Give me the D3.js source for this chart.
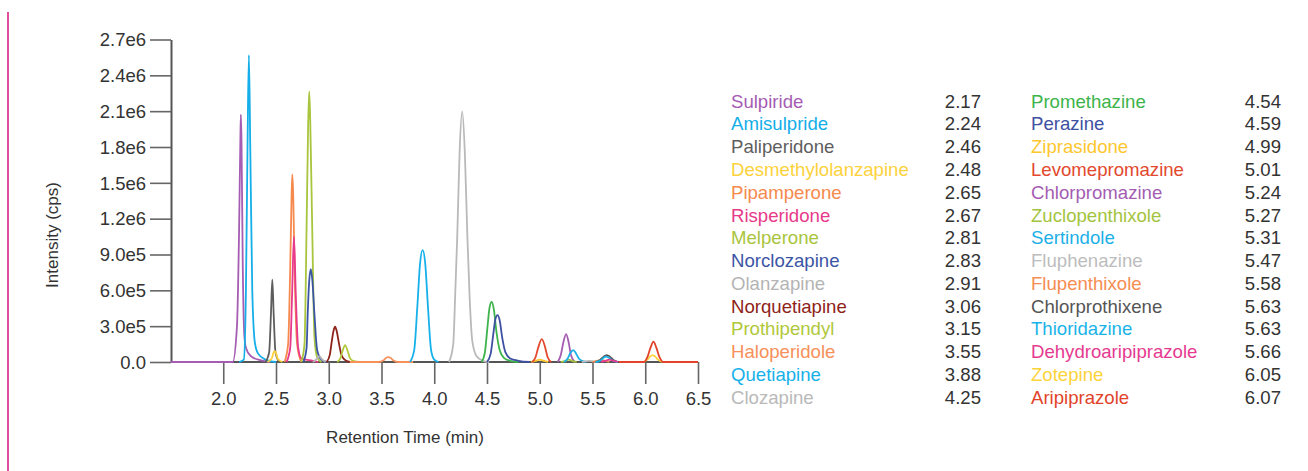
<!DOCTYPE html>
<html>
<head>
<meta charset="utf-8">
<script src="https://cdn.jsdelivr.net/npm/d3@7"></script>
<style>
  html, body { margin: 0; padding: 0; background: #fff; }
  svg { display: block; font-family: "Liberation Sans", Arial, Helvetica, sans-serif; }
</style>
</head>
<body>
<svg id="chart" width="1308" height="471"></svg>
<script>
// ---------- DATA ----------
const compounds = [
  "Sulpiride","Amisulpride","Paliperidone","Desmethylolanzapine","Pipamperone","Risperidone","Melperone",
  "Norclozapine","Olanzapine","Norquetiapine","Prothipendyl","Haloperidole","Quetiapine","Clozapine",
  "Promethazine","Perazine","Ziprasidone","Levomepromazine","Chlorpromazine","Zuclopenthixole","Sertindole",
  "Fluphenazine","Flupenthixole","Chlorprothixene","Thioridazine","Dehydroaripiprazole","Zotepine","Aripiprazole"
];
const retentionTimes = [
  "2.17","2.24","2.46","2.48","2.65","2.67","2.81","2.83","2.91","3.06","3.15","3.55","3.88","4.25",
  "4.54","4.59","4.99","5.01","5.24","5.27","5.31","5.47","5.58","5.63","5.63","5.66","6.05","6.07"
];
const colors = [
  "#a55cb3","#14aee8","#5e5e5e","#fdd23c","#f6894e","#e8398a","#a9c53d",
  "#3b55a5","#b4b4b4","#8e2318","#b0c83a","#f7905a","#17b1ea","#b9b9b9",
  "#3cb44b","#3e50a2","#fdc72e","#e2482d","#a45db2","#a3c43e","#1cb0e8",
  "#bdbdbd","#f68d52","#555555","#1ab3e8","#e63a90","#fdd33a","#e2432a"
];
// chromatogram traces: [retention time (min), intensity (cps)]
const traces = [
  [[1.5,0],[2.09,0],[2.13,0.3e6],[2.15,1.1e6],[2.162,1.85e6],[2.167,2.07e6],[2.173,1.85e6],[2.185,0.8e6],[2.2,0.22e6],[2.215,0.12e6],[2.26,0.05e6],[2.35,0.015e6],[2.45,0]],
  [[2.15,0],[2.195,0.02e6],[2.215,0.6e6],[2.23,1.8e6],[2.243,2.57e6],[2.256,1.8e6],[2.275,0.6e6],[2.3,0.16e6],[2.33,0.07e6],[2.4,0.02e6],[2.5,0]],
  [[2.4,0],[2.435,0.08e6],[2.452,0.4e6],[2.465,0.69e6],[2.478,0.4e6],[2.495,0.08e6],[2.53,0]],
  [[2.42,0],[2.46,0.03e6],[2.475,0.075e6],[2.487,0.09e6],[2.5,0.075e6],[2.515,0.03e6],[2.56,0]],
  [[2.58,0],[2.615,0.15e6],[2.635,0.8e6],[2.648,1.4e6],[2.655,1.57e6],[2.663,1.4e6],[2.677,0.75e6],[2.7,0.15e6],[2.74,0]],
  [[2.6,0],[2.635,0.12e6],[2.652,0.55e6],[2.67,1.05e6],[2.688,0.55e6],[2.71,0.12e6],[2.74,0.03e6],[2.85,0.01e6],[2.9,0]],
  [[2.74,0],[2.77,0.15e6],[2.79,1.13e6],[2.805,2.0e6],[2.815,2.265e6],[2.825,2.0e6],[2.843,1.13e6],[2.865,0.2e6],[2.89,0.04e6],[2.93,0]],
  [[2.76,0],[2.79,0.12e6],[2.8,0.39e6],[2.815,0.68e6],[2.83,0.777e6],[2.845,0.68e6],[2.865,0.39e6],[2.89,0.1e6],[2.93,0.02e6],[2.98,0]],
  [[2.85,0],[2.885,0.025e6],[2.91,0.05e6],[2.935,0.025e6],[2.97,0]],
  [[2.98,0],[3.01,0.06e6],[3.025,0.15e6],[3.045,0.26e6],[3.06,0.295e6],[3.075,0.26e6],[3.098,0.15e6],[3.12,0.06e6],[3.15,0.02e6],[3.2,0]],
  [[3.08,0],[3.11,0.03e6],[3.13,0.09e6],[3.155,0.142e6],[3.18,0.09e6],[3.2,0.035e6],[3.23,0.01e6],[3.3,0]],
  [[3.2,0],[3.47,0],[3.52,0.015e6],[3.545,0.035e6],[3.565,0.04e6],[3.585,0.035e6],[3.61,0.015e6],[3.66,0],[3.8,0]],
  [[3.77,0],[3.81,0.1e6],[3.84,0.468e6],[3.865,0.82e6],[3.89,0.936e6],[3.915,0.82e6],[3.94,0.468e6],[3.97,0.1e6],[4.0,0.02e6],[4.04,0]],
  [[4.14,0],[4.18,0.15e6],[4.2,0.6e6],[4.218,1.05e6],[4.24,1.75e6],[4.265,2.098e6],[4.29,1.75e6],[4.314,1.05e6],[4.335,0.55e6],[4.36,0.18e6],[4.4,0.05e6],[4.46,0.01e6],[4.52,0]],
  [[4.45,0],[4.48,0.08e6],[4.5,0.25e6],[4.525,0.46e6],[4.545,0.504e6],[4.565,0.44e6],[4.59,0.25e6],[4.62,0.1e6],[4.66,0.035e6],[4.72,0.01e6],[4.8,0]],
  [[4.5,0],[4.535,0.07e6],[4.555,0.2e6],[4.58,0.36e6],[4.6,0.393e6],[4.62,0.35e6],[4.645,0.2e6],[4.675,0.08e6],[4.72,0.03e6],[4.8,0.01e6],[4.9,0]],
  [[4.92,0],[4.97,0.012e6],[5.0,0.02e6],[5.03,0.012e6],[5.08,0]],
  [[4.93,0],[4.96,0.04e6],[4.985,0.12e6],[5.02,0.192e6],[5.052,0.12e6],[5.075,0.04e6],[5.11,0]],
  [[5.17,0],[5.2,0.06e6],[5.225,0.17e6],[5.25,0.234e6],[5.275,0.16e6],[5.295,0.06e6],[5.33,0]],
  [[5.2,0],[5.25,0.012e6],[5.275,0.02e6],[5.3,0.012e6],[5.35,0]],
  [[5.23,0],[5.265,0.03e6],[5.29,0.075e6],[5.318,0.1e6],[5.345,0.07e6],[5.37,0.03e6],[5.4,0.01e6],[5.44,0]],
  [[5.4,0],[5.47,0.01e6],[5.54,0]],
  [[5.5,0],[5.58,0.015e6],[5.66,0]],
  [[5.53,0],[5.575,0.02e6],[5.605,0.045e6],[5.635,0.058e6],[5.665,0.045e6],[5.695,0.02e6],[5.74,0]],
  [[5.53,0],[5.58,0.015e6],[5.605,0.035e6],[5.63,0.045e6],[5.655,0.035e6],[5.685,0.015e6],[5.74,0]],
  [[5.58,0],[5.63,0.012e6],[5.66,0.02e6],[5.69,0.012e6],[5.74,0]],
  [[5.98,0],[6.02,0.02e6],[6.045,0.045e6],[6.07,0.058e6],[6.095,0.045e6],[6.12,0.02e6],[6.16,0]],
  [[5.75,0],[5.99,0],[6.02,0.04e6],[6.05,0.12e6],[6.078,0.17e6],[6.105,0.12e6],[6.135,0.04e6],[6.17,0],[6.5,0]]
];
const xTickValues = [2.0, 2.5, 3.0, 3.5, 4.0, 4.5, 5.0, 5.5, 6.0, 6.5];
const xTickLabels = ["2.0","2.5","3.0","3.5","4.0","4.5","5.0","5.5","6.0","6.5"];
const yTickValues = [0, 3e5, 6e5, 9e5, 1.2e6, 1.5e6, 1.8e6, 2.1e6, 2.4e6, 2.7e6];
const yTickLabels = ["0.0","3.0e5","6.0e5","9.0e5","1.2e6","1.5e6","1.8e6","2.1e6","2.4e6","2.7e6"];
const xTitle = "Retention Time (min)";
const yTitle = "Intensity (cps)";

// ---------- LAYOUT ----------
const svg = d3.select("#chart");
const plotLeft = 171, plotRight = 698, plotTop = 39.5, plotBottom = 362;
const x = d3.scaleLinear().domain([1.5, 6.5]).range([plotLeft - 0.5, plotRight]);
const y = d3.scaleLinear().domain([0, 2.7e6]).range([plotBottom, plotTop]);

// page border line on the left
svg.append("line").attr("x1", 8).attr("x2", 8).attr("y1", 12).attr("y2", 471)
  .attr("stroke", "#d4157f").attr("stroke-width", 1.5);

const axisColor = "#555";
const gx = svg.append("g").attr("transform", `translate(0,${plotBottom})`)
  .call(d3.axisBottom(x).tickValues(xTickValues)
    .tickFormat((d, i) => xTickLabels[i]).tickSize(22).tickSizeOuter(0).tickPadding(8));
const gy = svg.append("g").attr("transform", `translate(${plotLeft},0)`)
  .call(d3.axisLeft(y).tickValues(yTickValues)
    .tickFormat((d, i) => yTickLabels[i]).tickSize(21).tickSizeOuter(0).tickPadding(4));
[gx, gy].forEach(g => {
  g.select(".domain").attr("stroke", axisColor).attr("stroke-width", 2);
  g.selectAll(".tick line").attr("stroke", "#666").attr("stroke-width", 1.6);
  g.selectAll(".tick text").attr("fill", "#333").style("font-size", "18.5px")
    .style("font-family", "'Liberation Sans', Arial, sans-serif");
});
gy.selectAll(".tick text").attr("dy", "0.34em");
gx.select(".domain").attr("d", `M${plotLeft},0H${plotRight}`);

// axis titles
svg.append("text").attr("x", 405).attr("y", 443).attr("text-anchor", "middle")
  .attr("fill", "#333").style("font-size", "17px").text(xTitle);
svg.append("text").attr("transform", "translate(58,235) rotate(-90)").attr("text-anchor", "middle")
  .attr("fill", "#333").style("font-size", "17px").text(yTitle);

// traces
const line = d3.line().x(d => x(d[0])).y(d => y(d[1])).curve(d3.curveMonotoneX);
svg.append("g").selectAll("path").data(traces).join("path")
  .attr("d", line).attr("fill", "none")
  .attr("stroke", (d, i) => colors[i]).attr("stroke-width", 1.8)
  .attr("stroke-linejoin", "round");

// legend
const rowH = 22.77, firstBase = 107.7;
const cols = [{ nameX: 731, valX: 981 }, { nameX: 1031, valX: 1281 }];
const leg = svg.append("g").style("font-size", "18.6px");
compounds.forEach((name, i) => {
  const c = cols[Math.floor(i / 14)], r = i % 14;
  const yy = firstBase + r * rowH;
  leg.append("text").attr("x", c.nameX).attr("y", yy).attr("fill", colors[i]).text(name);
  leg.append("text").attr("x", c.valX).attr("y", yy).attr("text-anchor", "end").attr("fill", "#333").text(retentionTimes[i]);
});
</script>
</body>
</html>
